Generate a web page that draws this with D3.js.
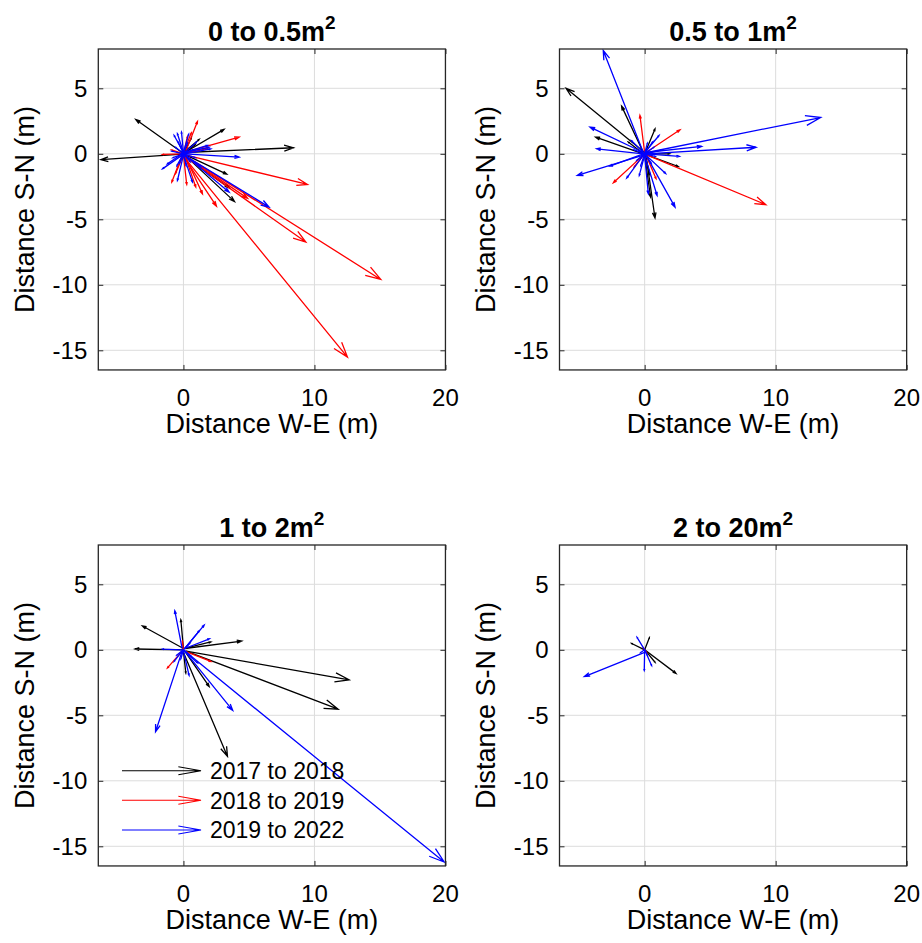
<!DOCTYPE html>
<html>
<head>
<meta charset="utf-8">
<script src="https://cdn.jsdelivr.net/npm/d3@7"></script>
<style>
  html, body { margin: 0; padding: 0; background: #fff; }
  svg { display: block; }
  text { font-family: "Liberation Sans", Arial, Helvetica, sans-serif; fill: #000; }
</style>
</head>
<body>
<svg id="chart" width="922" height="943"></svg>
<script>
// ---------------- DATA ----------------
const panelTitles = ["0 to 0.5m", "0.5 to 1m", "1 to 2m", "2 to 20m"];
const titleSup = "2";
const seriesNames = ["2017 to 2018", "2018 to 2019", "2019 to 2022"];
const xTicks = [0, 10, 20];
const yTicks = [-15, -10, -5, 0, 5];
const xDomain = [-6.5, 20];
const yDomain = [-16.5, 8];
const xLabel = "Distance W-E (m)";
const yLabel = "Distance S-N (m)";

// each arrow: [xStart, yStart, xEnd, yEnd] in metres
const p1_2017 = [
  [-0.1, 0.1, -3.64, 2.62], [0.2, 0.0, -6.3, -0.45], [0.1, 0.1, 8.4, 0.46],
  [0.1, 0.1, 3.1, 1.86], [0.2, -0.1, 3.3, -1.55], [0.1, -0.1, 3.9, -3.65],
  [0.0, 0.1, 1.2, 1.1], [0.0, 0.0, 0.9, 0.7], [0.1, -0.2, 3.5, -2.6],
  [0.0, 0.0, 0.6, 1.2]
];
const p1_2018 = [
  [0.1, 0.0, 1.07, 2.47], [0.1, 0.1, 4.25, 1.27], [0.2, -0.1, 9.47, -2.34],
  [0.1, -0.2, 9.34, -6.74], [0.2, -0.2, 15.06, -9.59], [0.0, -0.2, 12.52, -15.52],
  [0.0, -0.2, 2.52, -4.0], [-0.1, -0.1, -0.89, -2.16], [0.0, -0.1, 0.25, -2.34],
  [0.0, 0.0, -1.6, -0.05], [0.2, -0.2, 4.9, -3.4], [0.1, -0.1, 0.94, -2.54],
  [0.1, -0.1, 1.45, -3.05], [0.0, 0.1, 0.6, 1.6], [0.0, 0.0, 1.8, 0.4],
  [0.0, -0.1, -0.6, -1.5], [0.0, 0.0, -0.9, 0.3], [0.0, 0.0, 0.3, 1.3]
];
const p1_2019 = [
  [0.1, 0.0, 4.25, -0.25], [0.2, -0.2, 6.54, -4.07], [-0.1, -0.1, -1.6, -1.15],
  [0.0, 0.1, -0.71, 1.4], [0.0, 0.1, -0.46, 1.53], [0.0, 0.1, -0.15, 1.65],
  [0.0, 0.1, 0.4, 1.5], [0.1, 0.1, 1.96, 0.5], [0.1, 0.0, 2.09, 0.38],
  [0.0, -0.1, -0.46, -2.04], [0.0, -0.1, 0.69, -2.16], [0.1, -0.1, 3.49, -2.93],
  [-0.1, 0.0, -1.22, -0.76], [0.1, 0.1, 1.0, 0.9], [0.0, 0.0, -0.9, 0.2],
  [0.1, -0.1, 1.3, -1.0], [0.0, 0.0, -0.5, -0.9], [0.1, 0.1, 1.83, 0.64],
  [0.0, 0.0, -0.6, 0.5], [0.0, 0.0, 0.5, -0.6], [0.0, 0.0, -0.3, -0.7],
  [0.0, 0.0, 0.7, 0.3], [0.0, 0.0, 0.3, 0.8], [0.0, 0.0, -0.8, -0.3],
  [0.0, 0.0, 0.9, -0.3], [0.0, 0.0, -0.4, 0.9], [0.0, 0.0, 0.2, -0.9]
];

const p2_2017 = [
  [0.0, 0.1, -6.0, 5.0], [-0.1, 0.1, -1.76, 3.64], [-0.1, 0.0, -3.74, 1.27],
  [0.0, 0.0, 0.79, 1.9], [0.1, -0.1, 0.79, -4.9], [0.2, -0.1, 2.57, -0.97],
  [0.1, 0.0, 1.9, 0.0], [0.0, -0.1, 0.45, -3.3], [-0.1, 0.0, -1.25, 0.9],
  [0.0, 0.0, 0.4, -1.6]
];
const p2_2018 = [
  [0.0, 0.1, -0.36, 2.93], [0.1, 0.1, 2.7, 1.83], [0.2, -0.1, 9.25, -3.88],
  [-0.1, -0.1, -2.39, -2.21], [0.1, -0.1, 0.87, -1.9], [0.0, 0.0, -0.8, -1.0]
];
const p2_2019 = [
  [-0.1, 0.1, -3.16, 7.89], [0.2, 0.1, 13.44, 2.77], [0.1, 0.0, 8.5, 0.5],
  [0.1, 0.1, 4.35, 0.56], [-0.1, 0.1, -4.17, 2.04], [-0.1, 0.0, -3.66, 0.38],
  [-0.1, -0.1, -5.14, -1.65], [0.1, -0.1, 2.32, -4.07], [0.0, -0.1, 0.95, -3.18],
  [0.0, -0.1, 0.28, -3.05], [0.0, -0.1, -0.41, -1.65], [-0.1, -0.1, -1.37, -1.85],
  [0.0, 0.1, 1.1, 1.4], [0.1, 0.0, 2.65, -0.2], [0.1, -0.1, 1.6, -1.5],
  [-0.1, 0.0, -2.65, -0.94], [-0.1, 0.1, -1.0, 1.0], [0.0, 0.0, 0.6, 0.9],
  [0.1, 0.0, 1.3, 0.3], [0.0, 0.0, -0.6, -0.5], [0.0, 0.0, 0.5, -0.7],
  [0.0, 0.0, -0.8, 0.3], [0.0, 0.0, 0.8, -0.2], [0.0, 0.0, 0.2, 0.8],
  [0.0, 0.0, -0.3, -0.9], [0.0, 0.0, 0.7, 0.5]
];

const p3_2017 = [
  [0.0, 0.1, -3.13, 1.82], [0.0, 0.0, -3.69, 0.06], [0.1, 0.1, 4.45, 0.67],
  [0.2, -0.1, 12.65, -2.29], [0.2, -0.1, 11.81, -4.53], [0.0, -0.2, 3.36, -8.14],
  [0.1, -0.1, 1.96, -2.8], [0.0, 0.1, -0.2, 2.29], [0.1, 0.1, 2.09, 0.6],
  [0.0, -0.1, 0.18, -1.78]
];
const p3_2018 = [
  [0.1, -0.1, 2.09, -0.89], [-0.1, -0.1, -1.22, -1.38], [0.0, 0.0, -0.08, 0.64]
];
const p3_2019 = [
  [0.1, -0.1, 19.9, -16.2], [-0.1, 0.1, -0.66, 2.98], [-0.1, -0.1, -2.13, -6.25],
  [0.1, -0.1, 3.76, -4.62], [0.1, 0.1, 1.58, 1.88], [0.1, 0.1, 1.2, 1.45],
  [0.1, 0.1, 1.98, 0.84], [-0.1, 0.0, -1.6, 0.05], [0.0, -0.1, 0.43, -1.95],
  [0.1, -0.1, 1.07, -1.0], [-0.1, -0.1, -0.71, -0.89], [0.0, 0.0, -0.5, -0.4],
  [0.0, 0.0, 0.6, -0.5], [0.0, 0.0, 0.5, 0.5], [0.0, 0.0, -0.2, -0.7]
];

const p4_2017 = [
  [0.0, 0.0, 2.39, -1.8], [0.0, 0.0, 0.36, 0.92], [0.0, 0.0, -0.99, 0.48],
  [0.1, -0.1, 0.79, -0.95]
];
const p4_2018 = [
  [0.0, 0.0, 0.15, -0.2], [0.0, 0.0, -0.1, 0.15]
];
const p4_2019 = [
  [0.0, -0.2, -4.6, -2.04], [0.0, 0.0, -0.58, 0.95], [0.0, 0.0, -0.03, -1.58],
  [0.0, 0.0, 0.53, -1.2], [0.0, 0.0, 0.2, -0.4], [0.0, 0.0, -0.3, -0.2]
];

const panelData = [
  [p1_2017, p1_2018, p1_2019],
  [p2_2017, p2_2018, p2_2019],
  [p3_2017, p3_2018, p3_2019],
  [p4_2017, p4_2018, p4_2019]
];
const seriesColors = ["#000000", "#ff0000", "#0000ff"];

// ---------------- LAYOUT ----------------
const pxPerUnit = 13.1;
const plotW = pxPerUnit * (xDomain[1] - xDomain[0]);
const plotH = pxPerUnit * (yDomain[1] - yDomain[0]);
const panelPos = [
  { left: 98.3, top: 49 }, { left: 559.5, top: 49 },
  { left: 98.3, top: 545 }, { left: 559.5, top: 545 }
];
const svg = d3.select("#chart");
const FONT_TICK = 24, FONT_LABEL = 27, FONT_TITLE = 27, FONT_SUP = 19, FONT_LEG = 23;

function arrowPath(x1, y1, x2, y2, headFrac, headMax, halfAngleDeg) {
  const dx = x2 - x1, dy = y2 - y1;
  const L = Math.hypot(dx, dy);
  if (L < 1e-6) return "";
  const h = Math.min(headFrac * L, headMax);
  const a = Math.atan2(dy, dx);
  const t = halfAngleDeg * Math.PI / 180;
  const hx1 = x2 - h * Math.cos(a - t), hy1 = y2 - h * Math.sin(a - t);
  const hx2 = x2 - h * Math.cos(a + t), hy2 = y2 - h * Math.sin(a + t);
  return `M${x1},${y1}L${x2},${y2}M${hx1},${hy1}L${x2},${y2}L${hx2},${hy2}`;
}

panelPos.forEach((pos, pi) => {
  const x = d3.scaleLinear().domain(xDomain).range([pos.left, pos.left + plotW]);
  const y = d3.scaleLinear().domain(yDomain).range([pos.top + plotH, pos.top]);
  const g = svg.append("g");

  // grid
  g.append("g").selectAll("line.gx").data(xTicks).join("line")
    .attr("x1", d => x(d)).attr("x2", d => x(d))
    .attr("y1", pos.top).attr("y2", pos.top + plotH)
    .attr("stroke", "#dcdcdc").attr("stroke-width", 1);
  g.append("g").selectAll("line.gy").data(yTicks).join("line")
    .attr("y1", d => y(d)).attr("y2", d => y(d))
    .attr("x1", pos.left).attr("x2", pos.left + plotW)
    .attr("stroke", "#dcdcdc").attr("stroke-width", 1);

  // arrows (clipped to plot area)
  const clipId = "clip" + pi;
  svg.append("clipPath").attr("id", clipId).append("rect")
    .attr("x", pos.left).attr("y", pos.top).attr("width", plotW).attr("height", plotH);
  const ag = g.append("g").attr("clip-path", `url(#${clipId})`);
  panelData[pi].forEach((arr, si) => {
    ag.append("g").selectAll("path").data(arr).join("path")
      .attr("d", d => arrowPath(x(d[0]), y(d[1]), x(d[2]), y(d[3]), 0.09, 16, 18))
      .attr("fill", "none")
      .attr("stroke", seriesColors[si])
      .attr("stroke-width", 1.3)
      .attr("stroke-linejoin", "miter");
  });

  // axes with inward ticks on all four sides
  const tickLen = -5;
  const axB = d3.axisBottom(x).tickValues(xTicks).tickSize(tickLen).tickFormat("");
  const axT = d3.axisTop(x).tickValues(xTicks).tickSize(tickLen).tickFormat("");
  const axL = d3.axisLeft(y).tickValues(yTicks).tickSize(tickLen).tickFormat("");
  const axR = d3.axisRight(y).tickValues(yTicks).tickSize(tickLen).tickFormat("");
  [[axB, `translate(0,${pos.top + plotH})`], [axT, `translate(0,${pos.top})`],
   [axL, `translate(${pos.left},0)`], [axR, `translate(${pos.left + plotW},0)`]]
    .forEach(([ax, tr]) => {
      const a = g.append("g").attr("transform", tr).call(ax);
      a.select(".domain").remove();
      a.selectAll("line").attr("stroke", "#262626").attr("stroke-width", 1);
    });
  g.append("rect").attr("x", pos.left).attr("y", pos.top)
    .attr("width", plotW).attr("height", plotH)
    .attr("fill", "none").attr("stroke", "#262626").attr("stroke-width", 1.3);

  // tick labels
  g.append("g").selectAll("text").data(xTicks).join("text")
    .attr("x", d => x(d)).attr("y", pos.top + plotH + 36)
    .attr("text-anchor", "middle").attr("font-size", FONT_TICK)
    .text(d => String(d));
  g.append("g").selectAll("text").data(yTicks).join("text")
    .attr("x", pos.left - 11).attr("y", d => y(d)).attr("dy", "0.36em")
    .attr("text-anchor", "end").attr("font-size", FONT_TICK)
    .text(d => String(d));

  // axis labels
  g.append("text").attr("x", pos.left + plotW / 2).attr("y", pos.top + plotH + 63)
    .attr("text-anchor", "middle").attr("font-size", FONT_LABEL).text(xLabel);
  g.append("text")
    .attr("transform", `translate(${pos.left - 64.5},${pos.top + plotH / 2}) rotate(-90)`)
    .attr("text-anchor", "middle").attr("font-size", FONT_LABEL).text(yLabel);

  // title with superscript
  const t = g.append("text").attr("x", pos.left + plotW / 2).attr("y", pos.top - 8.3)
    .attr("text-anchor", "middle").attr("font-size", FONT_TITLE).attr("font-weight", "bold");
  t.append("tspan").text(panelTitles[pi]);
  t.append("tspan").attr("font-size", FONT_SUP).attr("dy", -12).text(titleSup);

  // legend in panel 3
  if (pi === 2) {
    const legY = [770.7, 800.3, 830];
    const lg = g.append("g");
    seriesNames.forEach((name, si) => {
      lg.append("path")
        .attr("d", arrowPath(122, legY[si], 201, legY[si], 0.3, 23, 10))
        .attr("fill", "none").attr("stroke", seriesColors[si]).attr("stroke-width", 1.1);
      lg.append("text").attr("x", 210).attr("y", legY[si]).attr("dy", "0.36em")
        .attr("font-size", FONT_LEG).text(name);
    });
  }
});
</script>
</body>
</html>
